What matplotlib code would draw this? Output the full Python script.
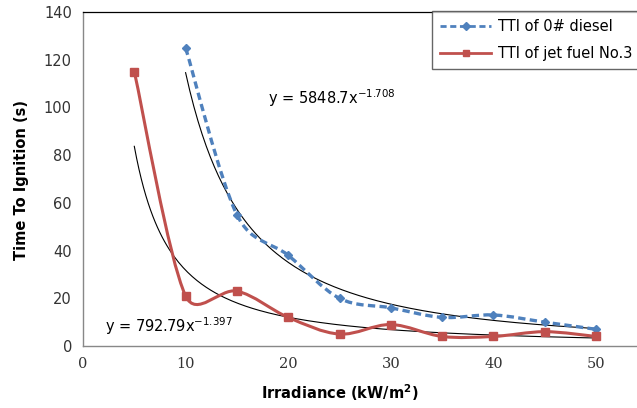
import numpy as np
import matplotlib
matplotlib.use("Agg")
import matplotlib.pyplot as plt
from matplotlib.path import Path
from matplotlib.patches import PathPatch

# ---- data ----
diesel_x = [10, 15, 20, 25, 30, 35, 40, 45, 50]
diesel_y = [125, 55, 38, 20, 16, 12, 13, 10, 7]
jet_x = [5, 10, 15, 20, 25, 30, 35, 40, 45, 50]
jet_y = [115, 21, 23, 12, 5, 9, 4, 4, 6, 4]
# power-law trendlines y = a * x^b
diesel_fit = (5848.7, -1.708)
jet_fit = (792.79, -1.397)
x_ticks = [0, 10, 20, 30, 40, 50]
y_ticks = [0, 20, 40, 60, 80, 100, 120, 140]

BLUE = "#4F81BD"
RED = "#C0504D"


def smooth_path(ax, xs, ys):
    """Excel-style smoothed line: Bezier segments built in display space."""
    pts = ax.transData.transform(np.column_stack([xs, ys]).astype(float))
    n = len(pts)
    verts = [pts[0]]
    codes = [Path.MOVETO]
    for i in range(n - 1):
        p0 = pts[i - 1] if i > 0 else pts[i]
        p1 = pts[i]
        p2 = pts[i + 1]
        p3 = pts[i + 2] if i + 2 < n else pts[i + 1]
        d12 = np.hypot(*(p2 - p1))
        d02 = np.hypot(*(p2 - p0))
        d13 = np.hypot(*(p3 - p1))
        f1 = 1 / 6.0
        f2 = 1 / 6.0
        if d02 / 6.0 >= d12 / 2.0 and d02 > 0:
            f1 = d12 / 2.0 / d02
        if d13 / 6.0 >= d12 / 2.0 and d13 > 0:
            f2 = d12 / 2.0 / d13
        c1 = p1 + (p2 - p0) * f1
        c2 = p2 - (p3 - p1) * f2
        verts += [c1, c2, p2]
        codes += [Path.CURVE4] * 3
    verts = ax.transData.inverted().transform(np.array(verts))
    return Path(verts, codes)


fig = plt.figure(figsize=(6.37, 4.08), dpi=100)
ax = fig.add_axes([83 / 637, 62 / 408, 615.6 / 637, 334 / 408])
ax.set_xlim(0, 60)
ax.set_ylim(0, 140)

# trendlines
for (a, b), xs in ((diesel_fit, diesel_x), (jet_fit, jet_x)):
    xx = np.linspace(min(xs), max(xs), 200)
    ax.plot(xx, a * xx ** b, color="black", lw=0.8, zorder=2)

# smoothed series
ax.add_patch(PathPatch(smooth_path(ax, diesel_x, diesel_y), fill=False, ec=BLUE,
                       lw=2.4, ls=(0, (2.2, 1.3)), zorder=3))
ax.add_patch(PathPatch(smooth_path(ax, jet_x, jet_y), fill=False, ec=RED,
                       lw=2.2, zorder=3))
ax.plot(diesel_x, diesel_y, ls="none", marker="D", ms=4.5, color=BLUE, zorder=4)
ax.plot(jet_x, jet_y, ls="none", marker="s", ms=5.2, color=RED, zorder=4)

# legend handles
h1, = ax.plot([], [], color=BLUE, lw=2.0, ls=(0, (2.2, 1.3)), marker="D", ms=4,
              label="TTI of 0# diesel")
h2, = ax.plot([], [], color=RED, lw=2.0, marker="s", ms=4.5,
              label="TTI of jet fuel No.3")
leg = ax.legend(handles=[h1, h2], loc="upper left", bbox_to_anchor=(432 / 637, 1 - 11 / 408),
                bbox_transform=fig.transFigure, frameon=True, fancybox=False,
                edgecolor="#404040", borderaxespad=0, prop={"family": "DejaVu Sans", "size": 10.5},
                handlelength=3.5, handletextpad=0.5, labelspacing=0.8, borderpad=0.55)
leg.get_frame().set_linewidth(1.0)

# equations
ax.text(18.0, 104, r"y = 5848.7x$^{\mathregular{-1.708}}$", fontsize=10.5,
        family="DejaVu Sans", va="center", ha="left")
ax.text(2.1, 8.5, r"y = 792.79x$^{\mathregular{-1.397}}$", fontsize=10.5,
        family="DejaVu Sans", va="center", ha="left")

# axes styling
ax.set_xticks(x_ticks)
ax.set_yticks(y_ticks)
ax.tick_params(length=0, pad=8)
for lab in ax.get_xticklabels():
    lab.set_family("DejaVu Serif")
    lab.set_fontsize(10.5)
    lab.set_color("#333333")
for lab in ax.get_yticklabels():
    lab.set_family("DejaVu Sans")
    lab.set_fontsize(10.5)
    lab.set_color("#333333")
ax.spines["right"].set_visible(False)
ax.spines["top"].set_color("black")
ax.spines["top"].set_linewidth(0.9)
for s in ("left", "bottom"):
    ax.spines[s].set_color("#888888")
    ax.spines[s].set_linewidth(1.0)

fig.text(340 / 637, 1 - 393 / 408, r"Irradiance (kW/m$^{\mathregular{2}}$)", ha="center", va="center",
         fontsize=10.5, fontweight="bold", family="DejaVu Sans")
fig.text(22 / 637, 1 - 180 / 408, "Time To Ignition (s)", ha="center", va="center",
         rotation=90, fontsize=10.5, fontweight="bold", family="DejaVu Sans")

fig.savefig("out.png", dpi=100)
